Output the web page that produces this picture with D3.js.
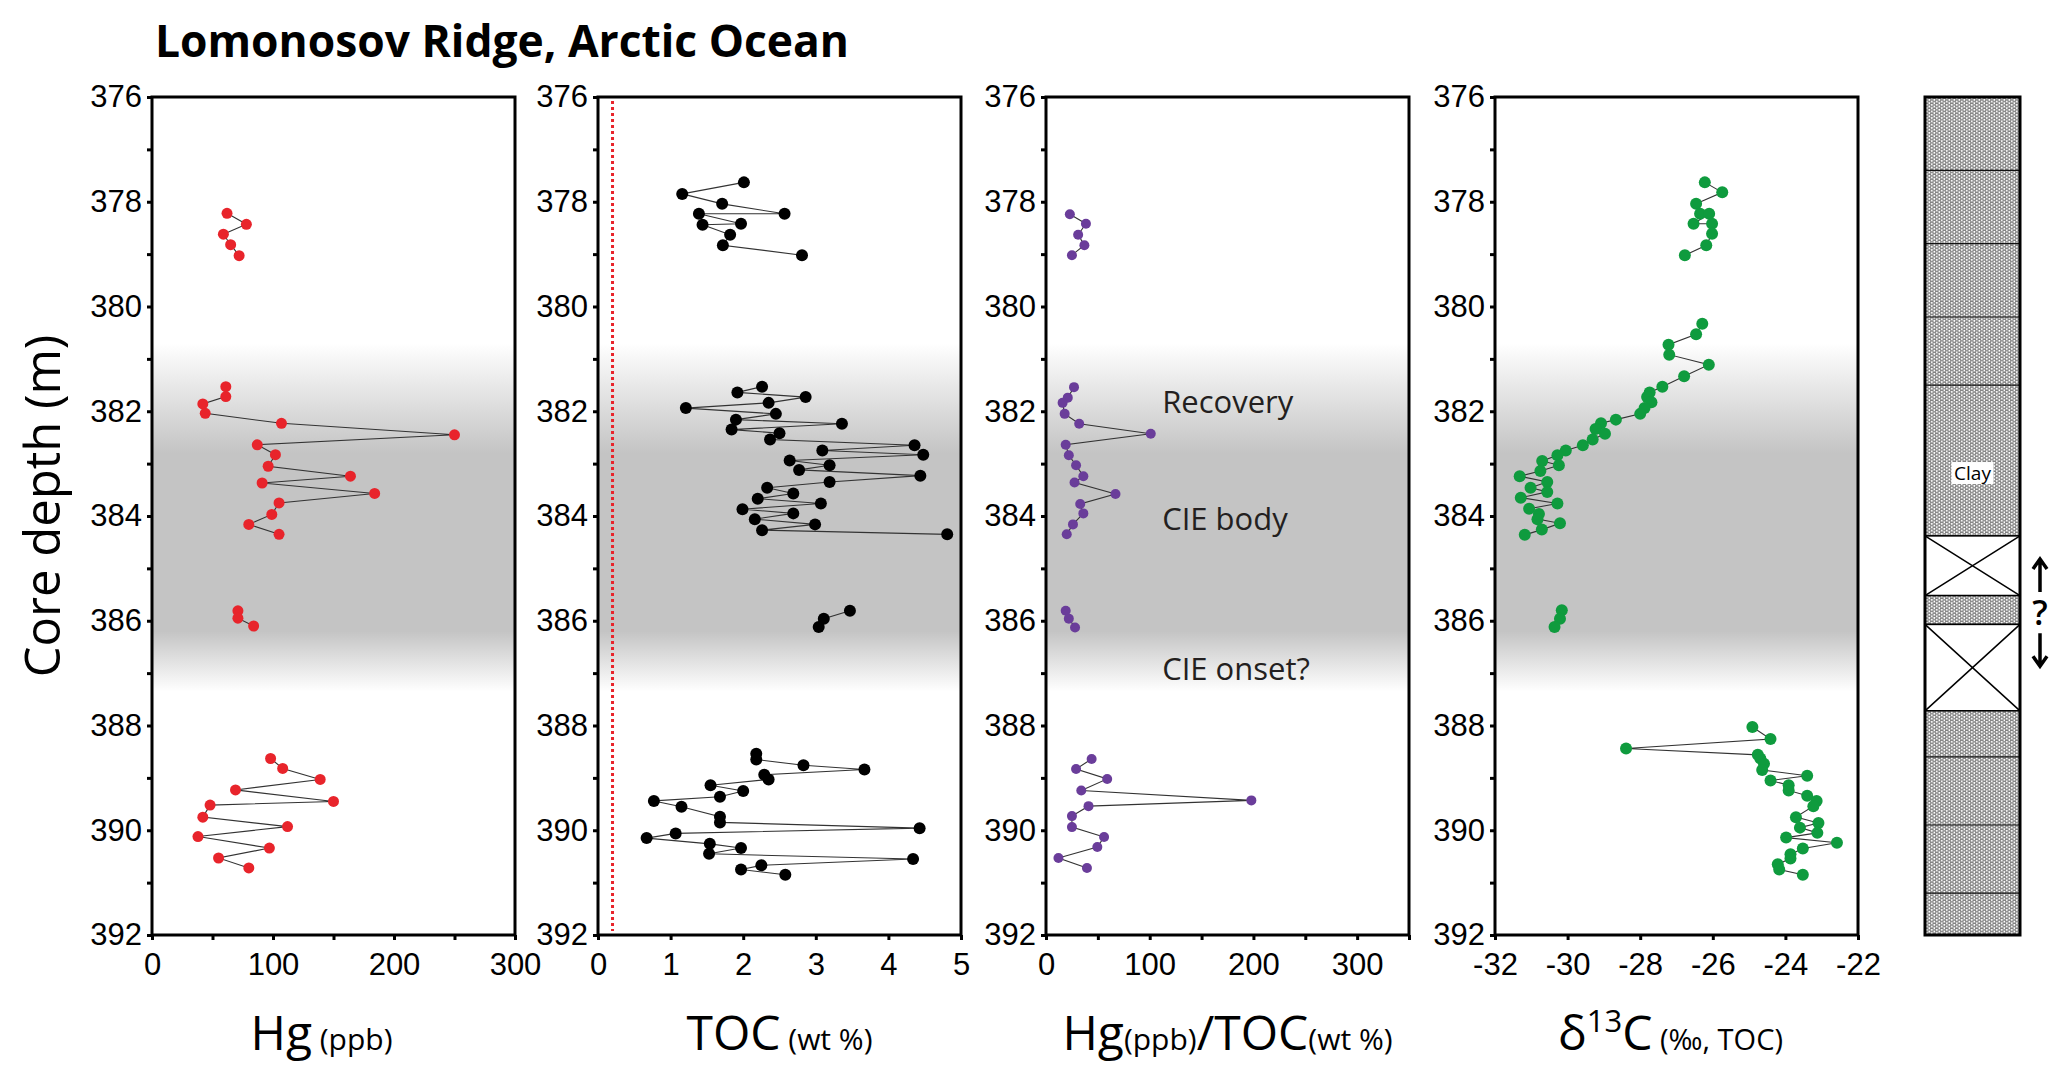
<!DOCTYPE html>
<html>
<head>
<meta charset="utf-8">
<script src="https://cdn.jsdelivr.net/npm/d3@7"></script>
<style>
  body { margin: 0; background: #fff; }
  svg { display: block; }
</style>
</head>
<body>
<div id="chart"></div>
<script>
// ---- data ----
const hgDepth = [378.22, 378.43, 378.62, 378.82, 379.03,
  381.53, 381.72, 381.86, 382.04, 382.23, 382.45, 382.64, 382.83, 383.05, 383.24, 383.37, 383.57, 383.75, 383.97, 384.16, 384.35,
  385.81, 385.95, 386.10,
  388.63, 388.82, 389.03, 389.23, 389.45, 389.52, 389.75, 389.93, 390.12, 390.34, 390.53, 390.72];
const hgPpb = [62, 78, 59, 65, 72,
  61, 61, 42, 44, 107, 250, 87, 102, 96, 164, 91, 184, 105, 99, 80, 105,
  71, 71, 84,
  98, 108, 139, 69, 150, 48, 42, 112, 38, 97, 55, 80];

const tocDepth = [377.63, 377.85, 378.04, 378.23, 378.23, 378.42, 378.44, 378.63, 378.83, 379.02,
  381.53, 381.64, 381.73, 381.84, 381.94, 382.05, 382.16, 382.24, 382.35, 382.42, 382.54, 382.65, 382.75, 382.83, 382.94,
  383.03, 383.12, 383.23, 383.35, 383.46, 383.57, 383.67, 383.76, 383.87, 383.95, 384.06, 384.16, 384.27, 384.35,
  385.81, 385.96, 386.12,
  388.54, 388.65, 388.76, 388.84, 388.94, 389.03, 389.14, 389.25, 389.36, 389.44, 389.55, 389.74, 389.85, 389.96,
  390.06, 390.15, 390.26, 390.34, 390.45, 390.55, 390.67, 390.75, 390.85];
const tocWt = [2.01, 1.16, 1.71, 2.57, 1.39, 1.97, 1.44, 1.82, 1.72, 2.81,
  2.26, 1.92, 2.86, 2.35, 1.21, 2.45, 1.90, 3.36, 1.84, 2.50, 2.37, 4.36, 3.09, 4.48, 2.64,
  3.19, 2.77, 4.44, 3.19, 2.33, 2.69, 2.20, 3.07, 1.99, 2.69, 2.16, 2.99, 2.26, 4.81,
  3.47, 3.11, 3.04,
  2.18, 2.18, 2.83, 3.67, 2.29, 2.35, 1.55, 2.00, 1.68, 0.77, 1.15, 1.68, 1.68, 4.43,
  1.07, 0.67, 1.54, 1.97, 1.53, 4.34, 2.25, 1.97, 2.58];
const tocThreshold = 0.2;

const hgTocDepth = [378.24, 378.42, 378.63, 378.83, 379.02,
  381.54, 381.74, 381.84, 382.05, 382.24, 382.43, 382.64, 382.84, 383.03, 383.24, 383.36, 383.58, 383.77, 383.95, 384.16, 384.35,
  385.81, 385.96, 386.13,
  388.64, 388.83, 389.02, 389.24, 389.43, 389.54, 389.73, 389.94, 390.13, 390.32, 390.53, 390.72];
const hgToc = [23, 38.5, 31, 37, 25,
  27, 21, 16, 18, 32, 101, 19, 22, 29, 36, 27.5, 67, 33, 36, 26, 20,
  19, 22, 28,
  44, 29, 59, 34, 198, 41, 25, 25, 56, 49.5, 12, 39.5];

const d13cDepth = [377.63, 377.82, 378.04, 378.23, 378.23, 378.42, 378.42, 378.61, 378.83, 379.02,
  380.33, 380.53, 380.73, 380.92, 381.11, 381.33, 381.53, 381.64, 381.73, 381.83,
  381.94, 382.05, 382.16, 382.23, 382.34, 382.43, 382.54, 382.65, 382.75, 382.84,
  382.95, 383.03, 383.14, 383.24, 383.35, 383.46, 383.54, 383.65, 383.76, 383.86,
  383.96, 384.06, 384.14, 384.26, 384.36,
  385.80, 385.96, 386.12,
  388.03, 388.26, 388.44, 388.56, 388.63, 388.73, 388.85, 388.96, 389.05, 389.14,
  389.24, 389.34, 389.44, 389.54, 389.75, 389.86, 389.95, 390.05, 390.14, 390.24,
  390.35, 390.46, 390.54, 390.65, 390.75, 390.85];
const d13c = [-26.22, -25.74, -26.46, -26.35, -26.10, -26.53, -26.02, -26.02, -26.18, -26.77,
  -26.29, -26.46, -27.22, -27.20, -26.11, -26.79, -27.39, -27.74, -27.81, -27.69,
  -27.88, -28.00, -28.67, -29.08, -29.23, -28.97, -29.31, -29.58, -30.05, -30.28,
  -30.70, -30.24, -30.75, -31.32, -30.56, -31.02, -30.56, -31.29, -30.28, -31.06,
  -30.79, -30.83, -30.21, -30.71, -31.18,
  -30.16, -30.21, -30.36,
  -24.91, -24.41, -28.39, -24.76, -24.69, -24.59, -24.64, -23.40, -24.41, -23.91,
  -23.91, -23.40, -23.14, -23.23, -23.71, -23.09, -23.60, -23.12, -23.98, -22.58,
  -23.52, -23.86, -23.86, -24.21, -24.17, -23.52];

// CIE interval shading (depth, opacity of grey)
const bandDepths = [380.7, 382.8, 386.2, 387.35];
const bandOpacity = [0, 1, 1, 0];

// lithology column
const lithTop = [376, 384.38, 385.52, 386.07, 387.72];
const lithBottom = [384.38, 385.52, 386.07, 387.72, 392];
const lithType = ["clay", "gap", "clay", "gap", "clay"];
const lithLines = [377.4, 378.8, 380.2, 381.5, 388.6, 389.9, 391.2];

// ticks
const depthTicks = [376, 378, 380, 382, 384, 386, 388, 390, 392];
const depthMinor = [377, 379, 381, 383, 385, 387, 389, 391];
const hgTicks = [0, 100, 200, 300];
const hgMinor = [50, 150, 250];
const tocTicks = [0, 1, 2, 3, 4, 5];
const hgTocTicks = [0, 100, 200, 300];
const hgTocMinor = [50, 150, 250, 350];
const d13cTicks = [-32, -30, -28, -26, -24, -22];

// ---- layout ----
const W = 2067, H = 1079;
const yTop = 97, yBot = 935;
const pw = 363;
const tickFont = "'Liberation Sans', Arial, sans-serif";
const labelFont = "'Open Sans', 'Noto Sans', sans-serif";

const svg = d3.select("#chart").append("svg")
  .attr("width", W)
  .attr("height", H);

const defs = svg.append("defs");

const y = d3.scaleLinear().domain([376, 392]).range([yTop, yBot]);

// grey band gradient
const grad = defs.append("linearGradient")
  .attr("id", "band")
  .attr("gradientUnits", "userSpaceOnUse")
  .attr("x1", 0).attr("x2", 0)
  .attr("y1", y(bandDepths[0]))
  .attr("y2", y(bandDepths[bandDepths.length - 1]));
const bandSpan = bandDepths[bandDepths.length - 1] - bandDepths[0];
bandDepths.forEach((d, i) => {
  grad.append("stop")
    .attr("offset", (d - bandDepths[0]) / bandSpan)
    .attr("stop-color", "#c4c4c4")
    .attr("stop-opacity", bandOpacity[i]);
});

// clay stipple: staggered rows of short dashes
const pat = defs.append("pattern")
  .attr("id", "clay")
  .attr("patternUnits", "userSpaceOnUse")
  .attr("width", 5).attr("height", 3.3);
pat.append("rect").attr("width", 5).attr("height", 3.3).attr("fill", "#fff");
pat.append("rect").attr("x", 0).attr("y", 0.4).attr("width", 3.6).attr("height", 1).attr("fill", "#4a4a4a");
pat.append("rect").attr("x", 2.5).attr("y", 2.05).attr("width", 3.6).attr("height", 1).attr("fill", "#4a4a4a");
pat.append("rect").attr("x", -2.5).attr("y", 2.05).attr("width", 3.6).attr("height", 1).attr("fill", "#4a4a4a");

const panels = [
  { x0: 152, domain: [0, 300], ticks: hgTicks, minor: hgMinor, depth: hgDepth, vals: hgPpb, color: "#e8242b", r: 5.5 },
  { x0: 598, domain: [0, 5], ticks: tocTicks, minor: [], depth: tocDepth, vals: tocWt, color: "#000", r: 6 },
  { x0: 1046, domain: [0, 350], ticks: hgTocTicks, minor: hgTocMinor, depth: hgTocDepth, vals: hgToc, color: "#6a3d9a", r: 5 },
  { x0: 1495, domain: [-32, -22], ticks: d13cTicks, minor: [], depth: d13cDepth, vals: d13c, color: "#0f9b3e", r: 6 }
];

// split into runs where the core has a sampling gap
function segments(depth, vals) {
  const out = [];
  let cur = [];
  depth.forEach((d, i) => {
    if (cur.length && d - cur[cur.length - 1][0] > 0.8) { out.push(cur); cur = []; }
    cur.push([d, vals[i]]);
  });
  if (cur.length) out.push(cur);
  return out;
}

panels.forEach((p, pi) => {
  const x = d3.scaleLinear().domain(p.domain).range([p.x0, p.x0 + pw]);
  p.x = x;
  const g = svg.append("g");

  // shading
  g.append("rect")
    .attr("x", p.x0).attr("width", pw)
    .attr("y", y(bandDepths[0]))
    .attr("height", y(bandDepths[3]) - y(bandDepths[0]))
    .attr("fill", "url(#band)");

  if (pi === 1) {
    g.append("line")
      .attr("x1", x(tocThreshold)).attr("x2", x(tocThreshold))
      .attr("y1", y(376) + 4).attr("y2", y(392) - 4)
      .attr("stroke", "#e8242b")
      .attr("stroke-width", 3)
      .attr("stroke-dasharray", "3,3");
  }

  const line = d3.line().x(d => x(d[1])).y(d => y(d[0]));
  g.selectAll(".seg")
    .data(segments(p.depth, p.vals))
    .join("path")
    .attr("d", line)
    .attr("fill", "none")
    .attr("stroke", "#333")
    .attr("stroke-width", 1.1);

  g.selectAll(".pt")
    .data(p.depth.map((d, i) => [d, p.vals[i]]))
    .join("circle")
    .attr("cx", d => x(d[1]))
    .attr("cy", d => y(d[0]))
    .attr("r", p.r)
    .attr("fill", p.color);

  // frame
  g.append("rect")
    .attr("x", p.x0).attr("y", yTop)
    .attr("width", pw).attr("height", yBot - yTop)
    .attr("fill", "none")
    .attr("stroke", "#000")
    .attr("stroke-width", 3);

  // y axis
  g.append("g").attr("transform", `translate(${p.x0},0)`)
    .call(d3.axisLeft(y).tickValues(depthTicks).tickSize(5).tickPadding(5).tickFormat(d => String(d)));
  g.append("g").attr("transform", `translate(${p.x0},0)`)
    .call(d3.axisLeft(y).tickValues(depthMinor).tickSize(5).tickFormat(""));

  // x axis
  g.append("g").attr("transform", `translate(0,${yBot})`)
    .call(d3.axisBottom(x).tickValues(p.ticks).tickSize(5).tickPadding(13).tickFormat(d => String(d)));
  if (p.minor.length) {
    g.append("g").attr("transform", `translate(0,${yBot})`)
      .call(d3.axisBottom(x).tickValues(p.minor).tickSize(5).tickFormat(""));
  }
});

svg.selectAll(".domain").remove();
svg.selectAll(".tick line").attr("stroke", "#000").attr("stroke-width", 3);
svg.selectAll(".tick text")
  .attr("fill", "#000")
  .style("font-family", tickFont)
  .style("font-size", "31px");

// axis titles
function title(cx, parts) {
  const t = svg.append("text")
    .attr("x", cx).attr("y", 1050)
    .attr("text-anchor", "middle")
    .style("font-family", labelFont)
    .attr("fill", "#000");
  parts.forEach(pt => {
    const s = t.append("tspan").text(pt.t).style("font-size", pt.s + "px");
    if (pt.dy) s.attr("dy", pt.dy);
  });
  return t;
}
const cx = i => panels[i].x0 + pw / 2;
title(cx(0) - 12, [{ t: "Hg", s: 48 }, { t: " (ppb)", s: 30 }]);
title(cx(1), [{ t: "TOC", s: 48 }, { t: " (wt %)", s: 30 }]);
title(cx(2), [{ t: "Hg", s: 48 }, { t: "(ppb)", s: 30 }, { t: "/TOC", s: 48 }, { t: "(wt %)", s: 30 }]);
title(cx(3) - 6, [{ t: "δ", s: 48 }, { t: "13", s: 31, dy: -18 }, { t: "C", s: 48, dy: 18 }, { t: " (‰, TOC)", s: 29 }]);

svg.append("text")
  .attr("transform", `translate(60,${(yTop + yBot) / 2 - 10}) rotate(-90)`)
  .attr("text-anchor", "middle")
  .style("font-family", labelFont)
  .style("font-size", "49px")
  .text("Core depth (m)");

svg.append("text")
  .attr("x", 155).attr("y", 57)
  .attr("textLength", 694)
  .attr("lengthAdjust", "spacingAndGlyphs")
  .style("font-family", labelFont)
  .style("font-weight", 700)
  .style("font-size", "45px")
  .text("Lomonosov Ridge, Arctic Ocean");

// interval annotations in the Hg/TOC panel
const notes = [["Recovery", 382.04], ["CIE body", 384.27], ["CIE onset?", 387.13]];
svg.selectAll(".note")
  .data(notes)
  .join("text")
  .attr("x", panels[2].x(112))
  .attr("y", d => y(d[1]))
  .style("font-family", labelFont)
  .style("font-size", "31px")
  .attr("fill", "#231f20")
  .text(d => d[0]);

// lithology column
const lx = 1925, lw = 95;
const lith = svg.append("g");
lithType.forEach((t, i) => {
  const y0 = y(lithTop[i]), y1 = y(lithBottom[i]);
  lith.append("rect")
    .attr("x", lx).attr("y", y0).attr("width", lw).attr("height", y1 - y0)
    .attr("fill", t === "clay" ? "url(#clay)" : "#fff")
    .attr("stroke", "#000").attr("stroke-width", 1.5);
  if (t === "gap") {
    lith.append("path")
      .attr("d", `M${lx},${y0}L${lx + lw},${y1}M${lx + lw},${y0}L${lx},${y1}`)
      .attr("stroke", "#000").attr("stroke-width", 1.5);
  }
});
lith.selectAll(".ll")
  .data(lithLines)
  .join("line")
  .attr("x1", lx).attr("x2", lx + lw)
  .attr("y1", d => y(d)).attr("y2", d => y(d))
  .attr("stroke", "#111").attr("stroke-width", 1.2);
lith.append("rect")
  .attr("x", lx).attr("y", yTop).attr("width", lw).attr("height", yBot - yTop)
  .attr("fill", "none").attr("stroke", "#000").attr("stroke-width", 3);

const clayY = y(383.18);
lith.append("rect")
  .attr("x", lx + lw / 2 - 21).attr("y", clayY - 11)
  .attr("width", 42).attr("height", 22)
  .attr("fill", "#fff");
lith.append("text")
  .attr("x", lx + lw / 2).attr("y", clayY + 7)
  .attr("text-anchor", "middle")
  .style("font-family", labelFont)
  .style("font-size", "19px")
  .text("Clay");

// uncertain boundary arrows
const ax = 2040;
const arr = svg.append("g").attr("stroke", "#000").attr("stroke-width", 3.5).attr("fill", "none");
arr.append("path").attr("d", `M${ax},${y(385.45)}V${y(384.82)}M${ax - 7},${y(384.82) + 10}L${ax},${y(384.82)}L${ax + 7},${y(384.82) + 10}`);
arr.append("path").attr("d", `M${ax},${y(386.24)}V${y(386.87)}M${ax - 7},${y(386.87) - 10}L${ax},${y(386.87)}L${ax + 7},${y(386.87) - 10}`);
svg.append("text")
  .attr("x", ax).attr("y", y(385.84) + 13)
  .attr("text-anchor", "middle")
  .style("font-family", labelFont)
  .style("font-weight", 600)
  .style("font-size", "34px")
  .text("?");
</script>
</body>
</html>
